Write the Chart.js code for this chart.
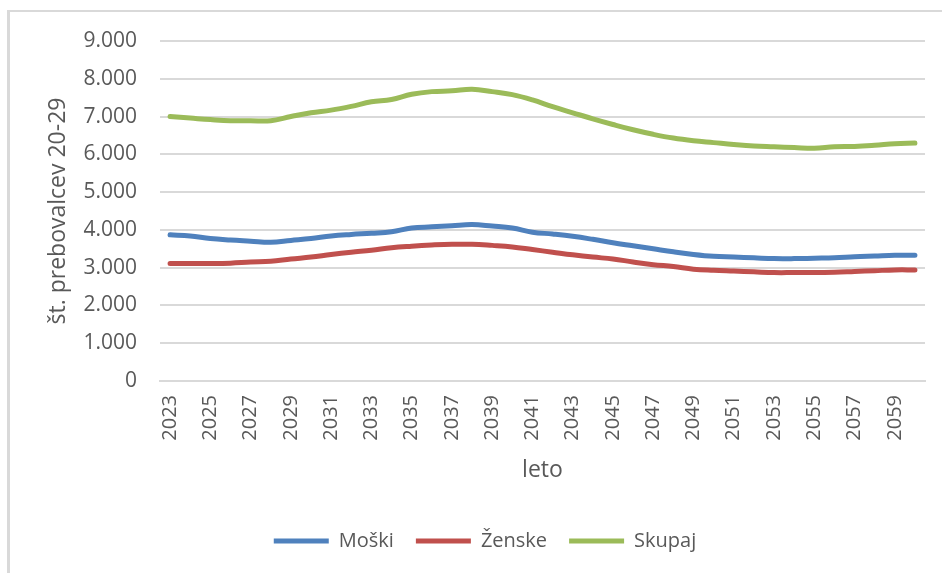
<!DOCTYPE html>
<html>
<head>
<meta charset="utf-8">
<script src="https://cdn.jsdelivr.net/npm/chart.js@4/dist/chart.umd.min.js"></script>
<style>
  html, body { margin: 0; padding: 0; background: #fff; }
  .frame {
    position: absolute;
    left: 7px;
    top: 10px;
    width: 940px;
    height: 570px;
    border-left: 3px solid #d9d9d9;
    border-top: 2px solid #d9d9d9;
  }
  .frame canvas { display: block; }
</style>
</head>
<body>
<div class="frame">
  <canvas id="chart" width="932" height="561"></canvas>
</div>
<script>
// leta 2023-2060
const years = [];
for (let y = 2023; y <= 2060; y++) years.push(String(y));

const moski = [
  3870, 3840, 3770, 3730, 3700, 3670, 3720, 3770, 3840, 3880,
  3910, 3950, 4050, 4080, 4110, 4140, 4100, 4050, 3940, 3890,
  3830, 3750, 3660, 3580, 3500, 3420, 3350, 3300, 3280, 3260,
  3240, 3240, 3250, 3260, 3290, 3310, 3330, 3330
];
const zenske = [
  3110, 3110, 3110, 3120, 3150, 3170, 3230, 3280, 3350, 3410,
  3460, 3530, 3570, 3600, 3620, 3620, 3590, 3550, 3480, 3410,
  3340, 3280, 3230, 3150, 3080, 3030, 2960, 2930, 2910, 2890,
  2870, 2870, 2870, 2880, 2900, 2920, 2940, 2940
];
const skupaj = [
  7000, 6960, 6920, 6890, 6890, 6890, 7000, 7100, 7170, 7270,
  7390, 7450, 7590, 7660, 7680, 7720, 7660, 7580, 7440, 7260,
  7100, 6940, 6790, 6650, 6530, 6430, 6360, 6310, 6260, 6220,
  6200, 6180, 6160, 6200, 6210, 6240, 6280, 6300
];

const yTicksMax = 9000;
const yTicksStep = 1000;

const gray = "#595959";
const gridGray = "#d9d9d9";
const font = "'Open Sans', 'Noto Sans', sans-serif";

function fmt(v) {
  return String(v).replace(/\B(?=(\d{3})+(?!\d))/g, ".");
}

function series(label, data, color) {
  return {
    label: label,
    data: data,
    borderColor: color,
    backgroundColor: color,
    borderWidth: 5,
    borderCapStyle: "round",
    borderJoinStyle: "round",
    pointRadius: 0,
    pointHoverRadius: 0,
    tension: 0.4,
    fill: false,
  };
}

new Chart(document.getElementById("chart"), {
  type: "line",
  data: {
    labels: years,
    datasets: [
      series("Moški", moski, "#4f81bd"),
      series("Ženske", zenske, "#c0504d"),
      series("Skupaj", skupaj, "#9bbb59"),
    ],
  },
  options: {
    responsive: false,
    animation: false,
    layout: {
      padding: { left: 35, right: 17, top: 29, bottom: 12 },
    },
    plugins: {
      tooltip: { enabled: false },
      legend: {
        position: "bottom",
        labels: {
          usePointStyle: true,
          pointStyle: "line",
          pointStyleWidth: 55,
          padding: 22,
          color: gray,
          font: { family: font, size: 20 },
        },
      },
    },
    scales: {
      x: {
        offset: true,
        grid: { display: false, drawTicks: false },
        border: { display: true, color: gridGray, width: 2 },
        ticks: {
          autoSkip: false,
          minRotation: 90,
          maxRotation: 90,
          padding: 14,
          color: gray,
          font: { family: font, size: 20 },
          callback: function (value, index) {
            return index % 2 === 0 ? years[index] : null;
          },
        },
        title: {
          display: true,
          text: "leto",
          color: gray,
          font: { family: font, size: 23 },
          padding: { top: 0, bottom: 25 },
        },
        afterFit: (scale) => {
          scale.height = 128;
        },
      },
      y: {
        min: 0,
        max: yTicksMax,
        // invisible tick marks keep the labels away from the plot
        grid: {
          color: gridGray,
          lineWidth: 2,
          drawTicks: true,
          tickLength: 17,
          tickColor: "rgba(0,0,0,0)",
        },
        border: { display: false },
        ticks: {
          stepSize: yTicksStep,
          padding: 6,
          color: gray,
          font: { family: font, size: 21 },
          callback: (value) => fmt(value),
        },
        title: {
          display: true,
          text: "št. prebovalcev 20-29",
          color: gray,
          font: { family: font, size: 23 },
          padding: { top: 0, bottom: 0 },
        },
        afterFit: (scale) => {
          scale.width = 115;
        },
      },
    },
  },
});
</script>
</body>
</html>
